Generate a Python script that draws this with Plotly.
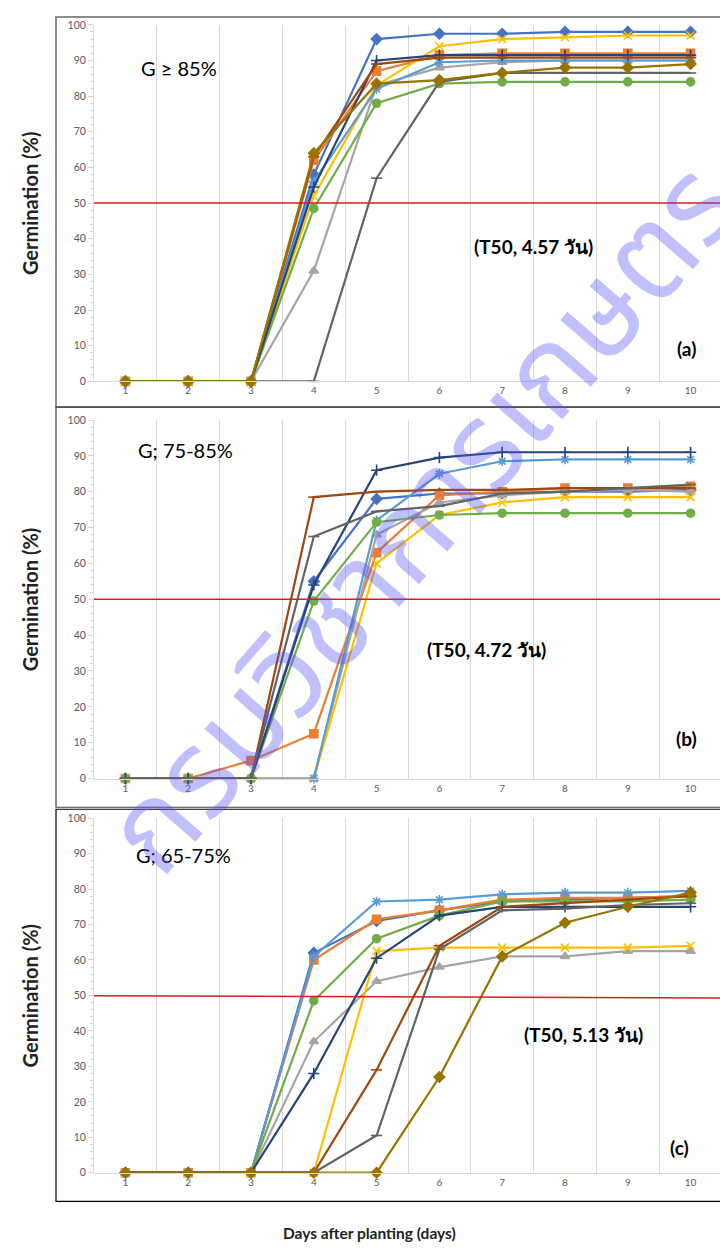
import plotly.graph_objects as go

W, H = 720, 1254

days = [1, 2, 3, 4, 5, 6, 7, 8, 9, 10]
tick_labels = ["1", "2", "3", "4", "5", "6", "7", "8", "9", "10"]
y_ticks = [0, 10, 20, 30, 40, 50, 60, 70, 80, 90, 100]

# Series styles (Excel-like palette and marker cycle)
colors = ["#4472C4", "#ED7D31", "#A5A5A5", "#FFC000", "#5B9BD5",
          "#70AD47", "#264478", "#9E480E", "#636363", "#997300"]
symbols = ["diamond", "square", "triangle-up", "x-thin-open", "asterisk-open",
           "circle", "cross-thin-open", "line-ew-open", "line-ew-open", "diamond"]

# Panel (a): G >= 85%
a_blue = [0, 0, 0, 58, 96, 97.5, 97.5, 98, 98, 98]
a_orange = [0, 0, 0, 62, 87, 91.5, 92, 92, 92, 92]
a_gray = [0, 0, 0, 31, 83, 88, 89.5, 90, 90, 90]
a_yellow = [0, 0, 0, 52, 83, 94, 96, 96.5, 97, 97]
a_lightblue = [0, 0, 0, 56, 82, 89.5, 90, 90, 90, 90]
a_green = [0, 0, 0, 48.5, 78, 83.5, 84, 84, 84, 84]
a_navy = [0, 0, 0, 54.5, 90, 91.5, 91.5, 91.5, 91.5, 91.5]
a_brown = [0, 0, 0, 63, 89, 90.8, 90.8, 90.8, 90.8, 90.8]
a_darkgray = [0, 0, 0, 0, 57, 84, 86.5, 86.5, 86.5, 86.5]
a_olive = [0, 0, 0, 64, 83.5, 84.5, 86.5, 88, 88, 89]

# Panel (b): G 75-85%
b_blue = [0, 0, 0, 55, 78, 79.5, 79.5, 80, 80, 80.5]
b_orange = [0, 0, 5, 12.5, 63, 79, 80, 81, 81, 81.5]
b_gray = [0, 0, 0, 0, 68, 77, 79, 80, 80.5, 80]
b_yellow = [0, 0, 0, 0, 60, 73.5, 77, 78.5, 78.5, 78.5]
b_lightblue = [0, 0, 0, 0, 72, 85, 88.5, 89, 89, 89]
b_green = [0, 0, 0, 49.5, 71.5, 73.5, 74, 74, 74, 74]
b_navy = [0, 0, 0, 54, 86, 89.5, 91, 91, 91, 91]
b_brown = [0, 0, 0, 78.5, 80, 80.5, 80.5, 81, 81, 81]
b_darkgray = [0, 0, 0, 67.5, 74.5, 76, 79.5, 80, 81, 82]

# Panel (c): G 65-75%
c_blue = [0, 0, 0, 62, 71, 74, 76.5, 77, 77.5, 78]
c_orange = [0, 0, 0, 60, 71.5, 74, 77, 77.5, 77.5, 78]
c_gray = [0, 0, 0, 37, 54, 58, 61, 61, 62.5, 62.5]
c_yellow = [0, 0, 0, 0, 62.5, 63.5, 63.5, 63.5, 63.5, 64]
c_lightblue = [0, 0, 0, 61, 76.5, 77, 78.5, 79, 79, 79.5]
c_green = [0, 0, 0, 48.5, 66, 72.5, 76.5, 76.5, 76.5, 77]
c_navy = [0, 0, 0, 28, 60.5, 72.5, 75, 75, 75, 75]
c_brown = [0, 0, 0, 0, 29, 64, 75, 76, 77, 78]
c_darkgray = [0, 0, 0, 0, 10.5, 63, 74, 74.5, 75.5, 76]
c_olive = [0, 0, 0, 0, 0, 27, 61, 70.5, 75, 79]

panel_a = [a_blue, a_orange, a_gray, a_yellow, a_lightblue, a_green,
           a_navy, a_brown, a_darkgray, a_olive]
panel_b = [b_blue, b_orange, b_gray, b_yellow, b_lightblue, b_green,
           b_navy, b_brown, b_darkgray]
panel_c = [c_blue, c_orange, c_gray, c_yellow, c_lightblue, c_green,
           c_navy, c_brown, c_darkgray, c_olive]

group_labels = ["G \u2265 85%", "G; 75-85%", "G; 65-75%"]
t50_labels = ["(T50, 4.57 วัน)", "(T50, 4.72 วัน)", "(T50, 5.13 วัน)"]
panel_tags = ["(a)", "(b)", "(c)"]

# Pixel layout of each panel: (y of value 0, y of value 100, box top, box bottom)
panels_px = [(379, 19, 11, 405), (780, 418, 405, 809), (1178, 820, 811, 1207)]
box_styles = [("#8C8C8C", 2), ("#404040", 1.2), ("#000000", 1.2)]
# annotation positions in data units per panel
group_pos = [(1.85, 88), (1.95, 91.5), (1.92, 89.5)]
t50_pos = [(7.5, 37.7), (6.75, 36), (8.3, 39)]
tag_pos = [(9.93, 9.2), (9.94, 11.3), (9.82, 7.2)]
red_y = [(50, 50), (50, 50), (49.9, 49.3)]

x_left_px = 94
px_per_day = 62.8
x_range = [0.5, 0.5 + (W - x_left_px) / px_per_day]

fig = go.Figure()
font_main = "Lato, 'Noto Sans', 'DejaVu Sans', sans-serif"

for p, series_list in enumerate([panel_a, panel_b, panel_c]):
    sfx = "" if p == 0 else str(p + 1)
    for i, vals in enumerate(series_list):
        fig.add_trace(go.Scatter(
            x=days, y=vals, mode="lines+markers",
            line=dict(color=colors[i], width=2.2),
            marker=dict(symbol=symbols[i], size=8, color=colors[i],
                        line=dict(color=colors[i], width=1.6)),
            cliponaxis=False, showlegend=False,
            xaxis="x" + sfx, yaxis="y" + sfx,
        ))
    y0px, y100px, top, bot = panels_px[p]
    dom = [1 - y0px / H, 1 - y100px / H]
    fig.layout["xaxis" + sfx] = dict(
        domain=[x_left_px / W, 1], range=x_range, anchor="y" + sfx,
        tickvals=days, ticktext=tick_labels, showgrid=False, zeroline=False,
        showline=True, linecolor="#D9D9D9", linewidth=1, ticks="",
        tickfont=dict(size=10, color="#595959", family=font_main),
        minor=dict(tick0=0.5, dtick=1, showgrid=True, gridcolor="#D9D9D9",
                   gridwidth=1),
    )
    fig.layout["yaxis" + sfx] = dict(
        domain=dom, range=[0, 100], anchor="x" + sfx,
        tickvals=y_ticks, showgrid=False, zeroline=False,
        showline=True, linecolor="#D9D9D9", linewidth=1,
        ticks="outside", ticklen=5, tickcolor="#D9D9D9",
        tickfont=dict(size=10.5, color="#595959", family=font_main),
        minor=dict(dtick=2, ticks="outside", ticklen=3, tickcolor="#D9D9D9"),
    )
    # 50 % threshold
    fig.add_shape(type="line", xref="x" + sfx + " domain", yref="y" + sfx,
                  x0=0, x1=1, y0=red_y[p][0], y1=red_y[p][1],
                  line=dict(color="#D02020", width=1.5))
    # panel frame
    fig.add_shape(type="rect", xref="paper", yref="paper",
                  x0=56 / W, x1=1.05, y0=1 - bot / H, y1=1 - top / H,
                  line=dict(color=box_styles[p][0], width=box_styles[p][1]))
    xr, yr = "x" + sfx, "y" + sfx
    fig.add_annotation(x=group_pos[p][0], y=group_pos[p][1], xref=xr, yref=yr,
                       text=group_labels[p], showarrow=False,
                       font=dict(size=20, color="black", family=font_main))
    fig.add_annotation(x=t50_pos[p][0], y=t50_pos[p][1], xref=xr, yref=yr,
                       text="<b>" + t50_labels[p] + "</b>", showarrow=False,
                       font=dict(size=19, color="black", family=font_main))
    fig.add_annotation(x=tag_pos[p][0], y=tag_pos[p][1], xref=xr, yref=yr,
                       text="<b>" + panel_tags[p] + "</b>", showarrow=False,
                       font=dict(size=19, color="black", family=font_main))
    fig.add_annotation(x=30 / W, y=1 - (y0px + y100px) / 2 / H,
                       xref="paper", yref="paper", textangle=-90,
                       xanchor="center", yanchor="middle",
                       text="<b>Germination (%)</b>", showarrow=False,
                       font=dict(size=20, color="#222222", family=font_main))

# white frame of the T50 text box in panel (a)
fig.add_shape(type="rect", xref="x", yref="y", x0=5.4, x1=10.6, y0=29.7, y1=47.5,
              line=dict(color="white", width=7), layer="below")

fig.add_annotation(x=370 / W, y=1 - 1239 / H, xref="paper", yref="paper",
                   xanchor="center", yanchor="middle",
                   text="<b>Days after planting (days)</b>", showarrow=False,
                   font=dict(size=15.5, color="#222222", family=font_main))

# watermark
fig.add_annotation(x=425 / W, y=1 - 520 / H, xref="paper", yref="paper",
                   xanchor="center", yanchor="middle",
                   text="กรมวิชาการเกษตร", showarrow=False, textangle=-49,
                   font=dict(size=122, color="rgba(80,80,250,0.36)",
                             family="'Noto Sans Thai', 'Noto Sans', sans-serif"))

fig.update_layout(width=W, height=H, margin=dict(l=0, r=0, t=0, b=0),
                  paper_bgcolor="white", plot_bgcolor="white")
fig.write_html("out.html")
